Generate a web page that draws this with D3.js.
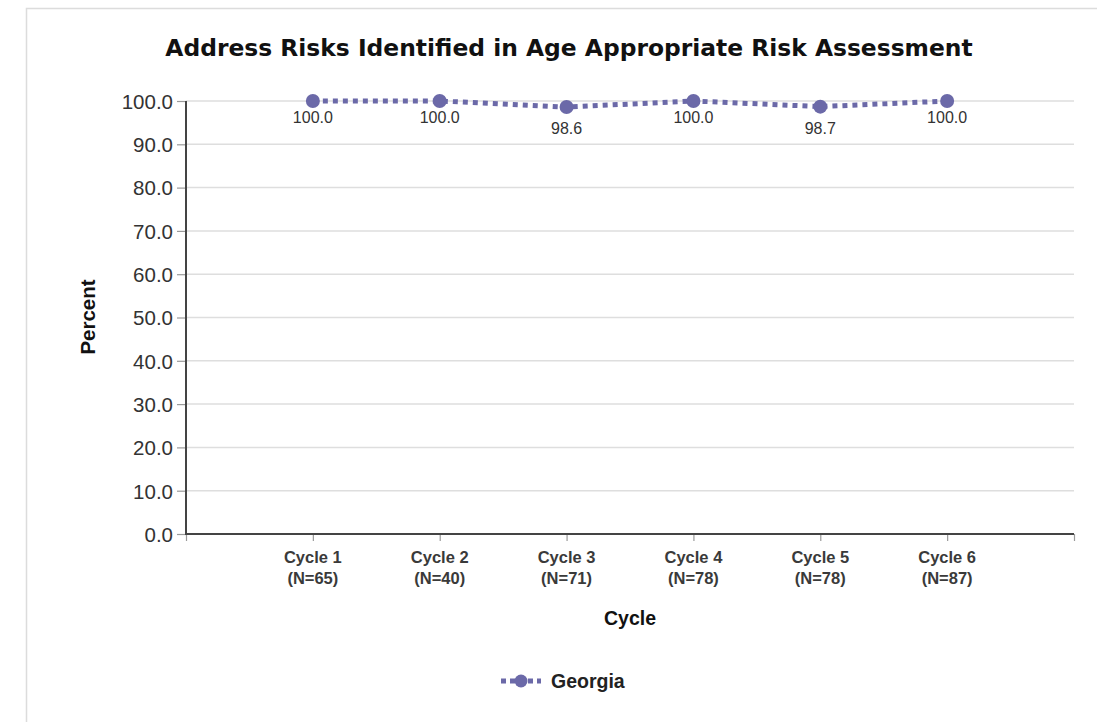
<!DOCTYPE html>
<html><head><meta charset="utf-8">
<script src="https://cdn.jsdelivr.net/npm/d3@7"></script>
<style>
html,body{margin:0;padding:0;background:#fff;}
svg{display:block;}
</style></head>
<body>
<svg id="chart" width="1097" height="722"></svg>
<script>
const cycles = ["Cycle 1","Cycle 2","Cycle 3","Cycle 4","Cycle 5","Cycle 6"];
const ns = ["(N=65)","(N=40)","(N=71)","(N=78)","(N=78)","(N=87)"];
const georgia = [100.0, 100.0, 98.6, 100.0, 98.7, 100.0];
const yTicks = [0,10,20,30,40,50,60,70,80,90,100];
const seriesName = "Georgia";

(function(){
const svg = d3.select("#chart");
const color = "#6b69a8";
const mL = 186, mR = 1074, mT = 101, mB = 534;
const ff = "'Liberation Sans', Arial, sans-serif";

// frame
svg.append("rect").attr("x",0).attr("y",0).attr("width",1097).attr("height",722).attr("fill","#fff");
svg.append("path").attr("d","M26.5,722 V8.5 H1097").attr("fill","none").attr("stroke","#dcdcdc").attr("stroke-width",1.5);

const x = d3.scalePoint().domain(["_s", ...cycles, "_e"]).range([mL, mR]);
const y = d3.scaleLinear().domain([0,100]).range([mB, mT]);

// gridlines
svg.append("g").selectAll("line").data(yTicks.filter(d=>d>0)).join("line")
  .attr("x1",mL).attr("x2",mR).attr("y1",d=>y(d)).attr("y2",d=>y(d))
  .attr("stroke","#dedede").attr("stroke-width",1.5);

// y axis
const yAxis = d3.axisLeft(y).tickValues(yTicks).tickFormat(d3.format(".1f")).tickSize(9).tickPadding(4);
const gy = svg.append("g").attr("transform",`translate(${mL},0)`).call(yAxis);
gy.select(".domain").remove();
gy.selectAll(".tick line").attr("stroke","#9a9a9a").attr("stroke-width",1.2);
gy.selectAll(".tick text").attr("fill","#333").attr("dy","0.36em").style("font-family",ff).style("font-size","20.5px");
svg.append("line").attr("x1",mL).attr("x2",mL).attr("y1",mT).attr("y2",mB+1).attr("stroke","#444").attr("stroke-width",2);

// x axis
const xAxis = d3.axisBottom(x).tickValues(x.domain()).tickFormat("").tickSize(7);
const gx = svg.append("g").attr("transform",`translate(0,${mB})`).call(xAxis);
gx.select(".domain").remove();
gx.selectAll(".tick line").attr("stroke","#9a9a9a").attr("stroke-width",1.2);
svg.append("line").attr("x1",mL-1).attr("x2",mR).attr("y1",mB).attr("y2",mB).attr("stroke","#444").attr("stroke-width",2);

const xl = svg.append("g").selectAll("text").data(cycles).join("text")
  .attr("x",d=>x(d)).attr("text-anchor","middle")
  .style("font-family",ff).style("font-size","16.5px").style("font-weight","bold").attr("fill","#3a3a3a");
xl.append("tspan").attr("x",d=>x(d)).attr("y",563).text(d=>d);
xl.append("tspan").attr("x",d=>x(d)).attr("y",584).text((d,i)=>ns[i]);

// axis titles
svg.append("text").attr("x",630).attr("y",625).attr("text-anchor","middle")
  .style("font-family",ff).style("font-size","19.5px").style("font-weight","bold").attr("fill","#111").text("Cycle");
svg.append("text").attr("transform","translate(95,317) rotate(-90)").attr("text-anchor","middle")
  .style("font-family",ff).style("font-size","20.5px").style("font-weight","bold").attr("fill","#111").text("Percent");

// title
svg.append("text").attr("x",569).attr("y",56).attr("text-anchor","middle")
  .style("font-family","'DejaVu Sans', Verdana, sans-serif").style("font-size","23.4px").style("font-weight","bold").attr("fill","#111")
  .text("Address Risks Identified in Age Appropriate Risk Assessment");

// line
const line = d3.line().x((d,i)=>x(cycles[i])).y(d=>y(d));
svg.append("path").datum(georgia).attr("d",line).attr("fill","none").attr("stroke",color)
  .attr("stroke-width",5).attr("stroke-dasharray","5,5");
svg.append("g").selectAll("circle").data(georgia).join("circle")
  .attr("cx",(d,i)=>x(cycles[i])).attr("cy",d=>y(d)).attr("r",7).attr("fill",color);
svg.append("g").selectAll("text").data(georgia).join("text")
  .attr("x",(d,i)=>x(cycles[i])).attr("y",d=>y(d)+(d<100?27:22)).attr("text-anchor","middle")
  .style("font-family",ff).style("font-size","16px").attr("fill","#333")
  .text(d=>d3.format(".1f")(d));

// legend
const lg = svg.append("g");
lg.append("line").attr("x1",501).attr("x2",541).attr("y1",681).attr("y2",681).attr("stroke",color).attr("stroke-width",5).attr("stroke-dasharray","5,4");
lg.append("circle").attr("cx",521).attr("cy",681).attr("r",6.5).attr("fill",color);
lg.append("text").attr("x",551).attr("y",688).style("font-family",ff).style("font-size","19.5px").style("font-weight","bold").attr("fill","#222").text(seriesName);
})();
</script>
</body></html>
